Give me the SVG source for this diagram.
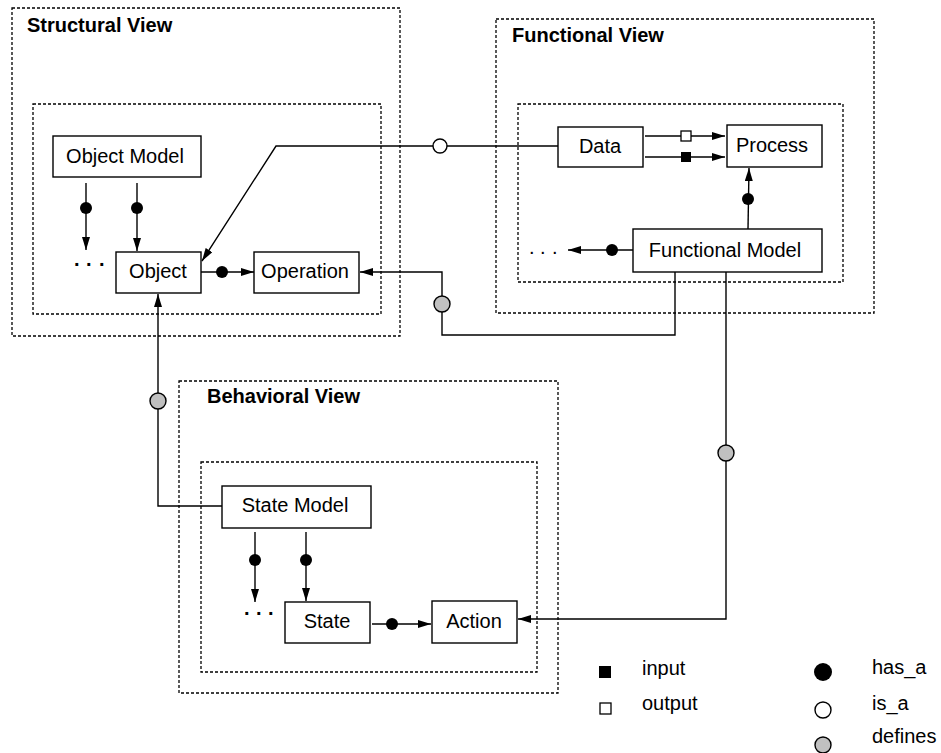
<svg xmlns="http://www.w3.org/2000/svg" width="941" height="753" viewBox="0 0 941 753">
<defs>
<marker id="ah" markerUnits="userSpaceOnUse" markerWidth="14" markerHeight="10" refX="13" refY="4" orient="auto">
<path d="M0,0 L13,4 L0,8 z" fill="#000"/>
</marker>
<style>
.view{fill:none;stroke:#000;stroke-width:1.3;stroke-dasharray:3 2}
.box{fill:#fff;stroke:#000;stroke-width:1.4}
.lbl{font-family:"Liberation Sans",Arial,sans-serif;font-size:20px;fill:#000;text-anchor:middle}
.ttl{font-family:"Liberation Sans",Arial,sans-serif;font-size:20px;font-weight:bold;fill:#000}
.leg{font-family:"Liberation Sans",Arial,sans-serif;font-size:20px;fill:#000}
.arr{fill:none;stroke:#000;stroke-width:1.4;marker-end:url(#ah)}
.has{fill:#000}
.isa{fill:#fff;stroke:#000;stroke-width:1.4}
.def{fill:#c0c0c0;stroke:#000;stroke-width:1.4}
.dots{font-family:"Liberation Sans",Arial,sans-serif;font-size:20px;font-weight:bold;fill:#000}
</style>
</defs>

<g id="structural-view">
<rect class="view" x="12" y="8" width="388" height="328"/>
<text class="ttl" x="27" y="32">Structural View</text>
<rect class="view" x="33" y="104" width="348" height="210"/>
</g>
<g id="functional-view">
<rect class="view" x="496" y="19" width="378" height="294"/>
<text class="ttl" x="512" y="42">Functional View</text>
<rect class="view" x="518" y="104" width="325" height="178"/>
</g>
<g id="behavioral-view">
<rect class="view" x="179" y="381" width="379" height="312"/>
<text class="ttl" x="207" y="403">Behavioral View</text>
<rect class="view" x="201" y="462" width="336" height="210"/>
</g>

<g id="connectors">
<line class="arr" x1="86" y1="183" x2="86" y2="250"/>
<circle class="has" cx="86" cy="208" r="6"/>
<line class="arr" x1="137" y1="183" x2="137" y2="251"/>
<circle class="has" cx="137" cy="208" r="6"/>
<line class="arr" x1="201" y1="272" x2="254" y2="272"/>
<circle class="has" cx="222" cy="272" r="6"/>
<polyline class="arr" points="558,146 276,146 202,261"/>
<circle class="isa" cx="440" cy="146" r="7"/>
<line class="arr" x1="645" y1="136" x2="725" y2="136"/>
<rect x="681" y="131" width="10" height="10" fill="#fff" stroke="#000" stroke-width="1.3"/>
<line class="arr" x1="645" y1="157" x2="725" y2="157"/>
<rect x="681" y="152" width="10" height="10" fill="#000"/>
<line class="arr" x1="748" y1="229" x2="749" y2="168"/>
<circle class="has" cx="748" cy="199" r="6"/>
<line class="arr" x1="633" y1="250" x2="568" y2="250"/>
<circle class="has" cx="612" cy="250" r="6"/>
<polyline class="arr" points="675,272 675,335 442,335 442,272 360,272"/>
<circle class="def" cx="442" cy="304" r="8"/>
<polyline class="arr" points="726,272 726,619 518,619"/>
<circle class="def" cx="726" cy="453" r="8"/>
<polyline class="arr" points="222,506 158,506 158,294"/>
<circle class="def" cx="158" cy="401" r="8"/>
<line class="arr" x1="255" y1="532" x2="255" y2="602"/>
<circle class="has" cx="255" cy="560" r="6"/>
<line class="arr" x1="306" y1="532" x2="306" y2="601"/>
<circle class="has" cx="306" cy="560" r="6"/>
<line class="arr" x1="372" y1="624" x2="431" y2="624"/>
<circle class="has" cx="392" cy="624" r="6"/>
</g>

<g id="object-model"><rect class="box" x="53" y="136" width="148" height="41"/><text class="lbl" x="125" y="163">Object Model</text></g>
<g id="object-dots"><text class="dots" x="74 86 99" y="266">...</text></g>
<g id="object"><rect class="box" x="116" y="252" width="85" height="41"/><text class="lbl" x="158" y="278">Object</text></g>
<g id="operation"><rect class="box" x="254" y="252" width="105" height="41"/><text class="lbl" x="305" y="278">Operation</text></g>

<g id="data"><rect class="box" x="558" y="127" width="85" height="40"/><text class="lbl" x="600" y="153">Data</text></g>
<g id="process"><rect class="box" x="727" y="125" width="95" height="42"/><text class="lbl" x="772" y="152">Process</text></g>
<g id="functional-model"><rect class="box" x="633" y="229" width="189" height="43"/><text class="lbl" x="725" y="257">Functional Model</text></g>
<g id="functional-dots"><text class="dots" x="529 540 552" y="254" style="font-weight:normal">...</text></g>

<g id="state-model"><rect class="box" x="222" y="486" width="149" height="42"/><text class="lbl" x="295" y="512">State Model</text></g>
<g id="state-dots"><text class="dots" x="244 256 268" y="615">...</text></g>
<g id="state"><rect class="box" x="285" y="602" width="85" height="41"/><text class="lbl" x="327" y="628">State</text></g>
<g id="action"><rect class="box" x="432" y="601" width="85" height="42"/><text class="lbl" x="474" y="628">Action</text></g>

<g id="legend">
<rect x="599" y="666" width="12" height="12" fill="#000"/>
<text class="leg" x="642" y="675">input</text>
<rect x="600" y="703" width="11" height="11" fill="#fff" stroke="#000" stroke-width="1.3"/>
<text class="leg" x="642" y="710">output</text>
<circle cx="823" cy="672" r="9" fill="#000"/>
<text class="leg" x="872" y="674">has_a</text>
<circle cx="823" cy="710" r="8" class="isa"/>
<text class="leg" x="872" y="710">is_a</text>
<circle cx="823" cy="745" r="8" class="def"/>
<text class="leg" x="872" y="743">defines</text>
</g>
</svg>
